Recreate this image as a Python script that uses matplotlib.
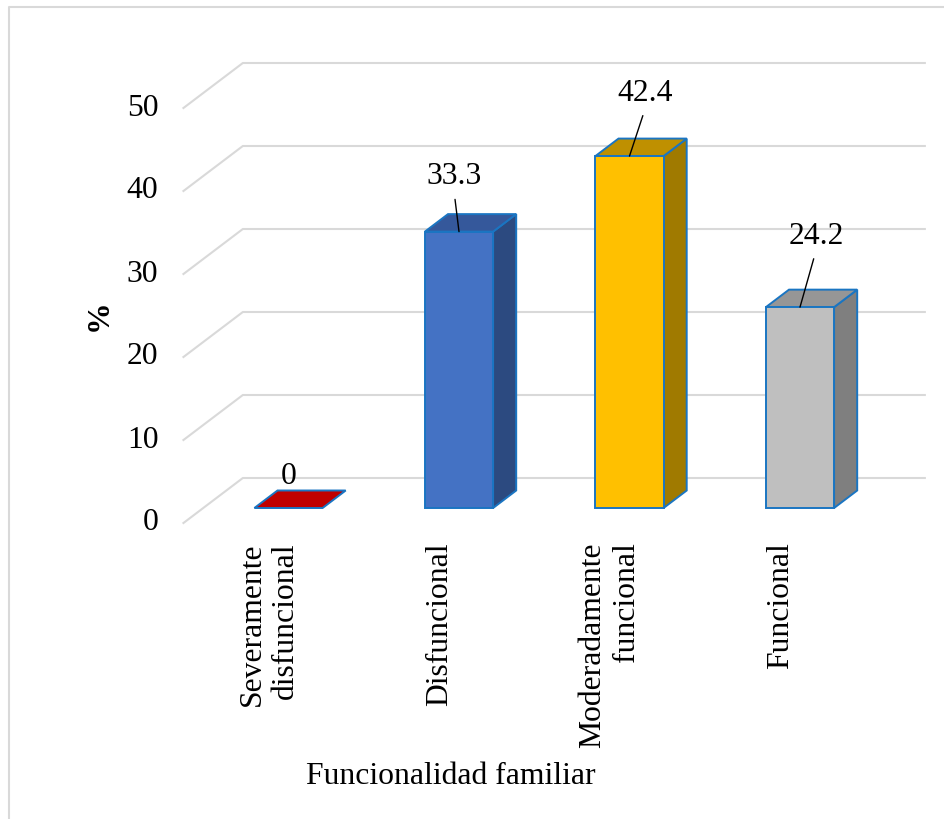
import matplotlib.pyplot as plt
from matplotlib.patches import Polygon
from matplotlib.lines import Line2D

categorias = ['Severamente\ndisfuncional', 'Disfuncional',
              'Moderadamente\nfuncional', 'Funcional']
porcentajes = [0, 33.3, 42.4, 24.2]
ticks_y = [0, 10, 20, 30, 40, 50]

# colores: cara frontal, cara superior, cara lateral
c_frente = ['#C00000', '#4472C4', '#FFC000', '#BFBFBF']
c_techo = ['#C00000', '#35589B', '#BF9000', '#969696']
c_lado = ['#C00000', '#2C4A80', '#A07A00', '#7F7F7F']
c_borde = '#1A75C2'
c_grid = '#D9D9D9'

# posicion de las etiquetas de datos (pixeles respecto a la cara superior)
off_etiq = [(0, 31), (-5, 55), (16, 63), (16, 71)]

plt.rcParams['font.family'] = ['Liberation Serif', 'DejaVu Serif']
fs = 22.8

W, H = 944, 819
fig = plt.figure(figsize=(W / 100, H / 100), dpi=100)
ax = fig.add_axes([203.25 / W, (H - 508) / H, 682 / W, 415 / H])
ax.set_xlim(-0.5, 3.5)
ax.set_ylim(0, 50)
ax.axis('off')

K = 1.32  # relacion dx/dy de la perspectiva


def prof(d):
    # desplazamiento de profundidad (d pixeles hacia arriba) en unidades de datos
    o = ax.transData.transform((0, 0))
    p = ax.transData.inverted().transform((o[0] + K * d, o[1] + d))
    return p[0], p[1]


# paredes: frontal a -15 px, fondo a +30 px
fx, fy = prof(-15)
bx, by = prof(30)
for t in ticks_y:
    ax.add_line(Line2D([-0.5 + fx, -0.5 + bx, 3.5 + bx], [t + fy, t + by, t + by],
                       color=c_grid, lw=1.5, clip_on=False, zorder=1))
    ax.annotate(str(t), xy=(-0.5 + fx, t + fy), xytext=(-25, 0),
                textcoords='offset pixels', ha='right', va='center',
                fontsize=fs, annotation_clip=False)

ax.annotate('%', xy=(-0.5 + fx, 25 + fy), xytext=(-84, 0),
            textcoords='offset pixels', ha='center', va='center',
            fontsize=fs, fontweight='bold', rotation=90, annotation_clip=False)

# barras 3D
dx, dy = prof(17.5)
ancho = 0.4
for i, v in enumerate(porcentajes):
    x0, x1 = i - ancho / 2, i + ancho / 2
    kw = dict(edgecolor=c_borde, lw=1.4, clip_on=False, zorder=3, joinstyle='miter')
    if v > 0:
        ax.add_patch(Polygon([(x1, 0), (x1 + dx, dy), (x1 + dx, v + dy), (x1, v)],
                             facecolor=c_lado[i], **kw))
    ax.add_patch(Polygon([(x0, v), (x1, v), (x1 + dx, v + dy), (x0 + dx, v + dy)],
                         facecolor=c_techo[i], **kw))
    if v > 0:
        ax.add_patch(Polygon([(x0, 0), (x1, 0), (x1, v), (x0, v)],
                             facecolor=c_frente[i], **kw))

    ox, oy = off_etiq[i]
    flecha = None
    if v > 0:
        flecha = dict(arrowstyle='-', color='black', lw=1,
                      shrinkA=4, shrinkB=0, relpos=(0.5, 0))
    ax.annotate(f'{v:g}', xy=(i, v), xytext=(ox, oy),
                textcoords='offset pixels', ha='center', va='center',
                fontsize=fs, arrowprops=flecha, annotation_clip=False, zorder=4)

    # etiqueta de categoria sobre el plano frontal
    ax.annotate(categorias[i], xy=(i + fx, fy), xytext=(0, -19),
                textcoords='offset pixels', ha='center', va='top',
                rotation=90, multialignment='right', fontsize=fs,
                linespacing=1.2, annotation_clip=False)

fig.text(450.5 / W, 1 - 777 / H, 'Funcionalidad familiar',
         ha='center', va='center', fontsize=fs)

# marco del grafico
fig.add_artist(Line2D([9 / W, 9 / W, 1.01], [-0.01, 1 - 7 / H, 1 - 7 / H],
                      transform=fig.transFigure, color=c_grid, lw=1.5))

fig.savefig('out.png', dpi=100)
